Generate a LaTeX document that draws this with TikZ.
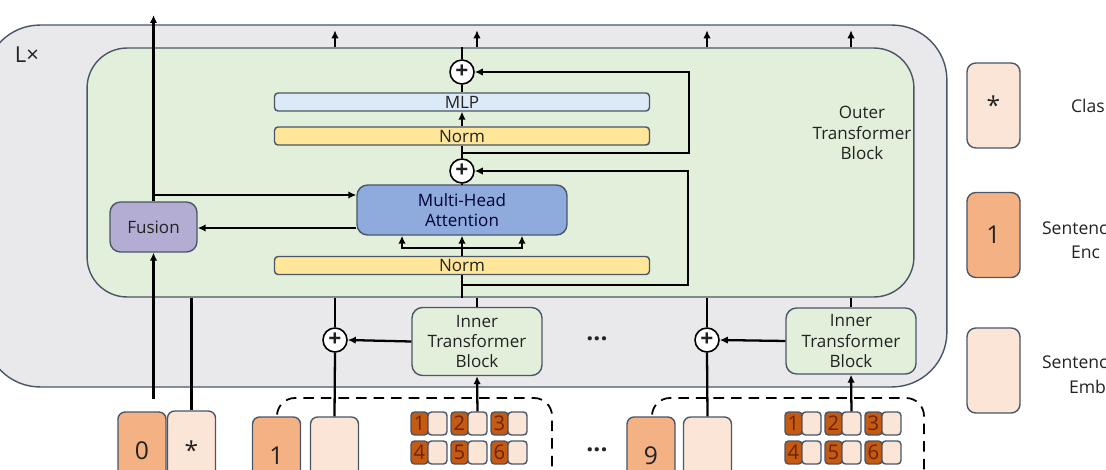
\documentclass[tikz,border=0pt]{standalone}
\usepackage{fontspec}
\setmainfont{Open Sans}
\usetikzlibrary{positioning}
\usetikzlibrary{arrows.meta}
\definecolor{tnt_gray}{HTML}{E9E9EC}
\definecolor{tnt_green}{HTML}{E2EFDA}
\definecolor{tnt_line}{HTML}{4A5568}
\definecolor{tnt_blue}{HTML}{DCE9F7}
\definecolor{tnt_yellow}{HTML}{FFE699}
\definecolor{tnt_mha}{HTML}{8FAADC}
\definecolor{tnt_fusion}{HTML}{B4ADD3}
\definecolor{tnt_pos}{HTML}{F4B183}
\definecolor{tnt_emb}{HTML}{FBE5D6}
\definecolor{tnt_word}{HTML}{C55A11}
\definecolor{tnt_wtext}{HTML}{6B2408}
\definecolor{tnt_text}{HTML}{222222}
\tikzset{tnt_diagram/.style={x=0.02cm,y=-0.02cm,line width=1.3pt,>={Latex[length=1.6mm,width=1.5mm]},font=\fontsize{9.7}{11.5}\selectfont,text=tnt_text}}
\tikzset{tnt_frame/.style={draw=tnt_line,line width=0.8pt,inner sep=0pt}}
\tikzset{tnt_bar/.style={tnt_frame,rounded corners=2pt,minimum width=7.5cm,minimum height=0.36cm}}
\tikzset{tnt_block/.style={tnt_frame,rounded corners=6pt,align=center}}
\tikzset{tnt_plus/.style={circle,draw=black,fill=white,line width=0.9pt,minimum size=0.48cm,inner sep=0pt,font=\fontsize{13}{13}\bfseries\selectfont}}
\tikzset{tnt_token/.style={tnt_frame,rounded corners=4pt,minimum width=0.96cm,minimum height=1.56cm,font=\fontsize{14}{14}\selectfont}}
\tikzset{tnt_wpos/.style={tnt_frame,fill=tnt_word,rounded corners=2pt,minimum width=0.34cm,minimum height=0.46cm,text=tnt_wtext,font=\fontsize{11.5}{11.5}\selectfont}}
\tikzset{tnt_wemb/.style={tnt_frame,fill=tnt_emb,rounded corners=2pt,minimum width=0.38cm,minimum height=0.46cm}}
\tikzset{tnt_legend/.style={tnt_frame,rounded corners=5pt,minimum width=1.06cm,minimum height=1.7cm,font=\fontsize{14}{14}\selectfont}}
\tikzset{tnt_dots/.style={font=\fontsize{14}{14}\bfseries\selectfont}}
\tikzset{tnt_ltext/.style={anchor=west,font=\fontsize{10}{12}\selectfont}}

\begin{document}
\begin{tikzpicture}[tnt_diagram]
    \useasboundingbox (0,0) rectangle (1106,470);
    % layer boxes
    \node[tnt_frame, fill=tnt_gray, rounded corners=1.1cm, minimum width=19.24cm, minimum height=7.24cm] (layer) at (466,206) {};
    \node[anchor=west, font=\fontsize{12.5}{14}\selectfont] (lx) at (8,55) {L×};
    \node[tnt_frame, fill=tnt_green, rounded corners=0.8cm, minimum width=16.54cm, minimum height=4.98cm] (outer) at (500.5,172.5) {};
    \node[align=center] (outer_lbl) at (862,133) {Outer\\Transformer\\Block};

    % outer transformer block
    \node[tnt_plus] (plusT) at (462,72) {+};
    \node[tnt_bar, fill=tnt_blue] (mlp) at (462,102) {MLP};
    \node[tnt_bar, fill=tnt_yellow] (normT) at (462,136) {Norm};
    \node[tnt_plus] (plusM) at (462,171) {+};
    \node[tnt_block, fill=tnt_mha, minimum width=4.2cm, minimum height=1cm, text=black!80!blue] (mha) at (462,210) {Multi-Head\\Attention};
    \node[tnt_bar, fill=tnt_yellow] (normB) at (462,265.5) {Norm};
    \node[tnt_block, fill=tnt_fusion, minimum width=1.74cm, minimum height=1cm] (fusion) at (153.5,227) {Fusion};

    % inner transformer blocks
    \node[tnt_block, fill=tnt_green, minimum width=2.6cm, minimum height=1.36cm] (innerA) at (477,341.5) {Inner\\Transformer\\Block};
    \node[tnt_block, fill=tnt_green, minimum width=2.6cm, minimum height=1.32cm] (innerB) at (851,341) {Inner\\Transformer\\Block};
    \node[tnt_plus] (plusL) at (335,340) {+};
    \node[tnt_plus] (plusR) at (707,340) {+};
    \node[tnt_dots] (dotsI) at (597,339) {...};

    % sentence groups
    \draw[line width=1pt, dashed, dash pattern=on 6pt off 4pt, rounded corners=0.36cm] (277,520) -- (277,398) -- (552,398) -- (552,520);
    \draw[line width=1pt, dashed, dash pattern=on 6pt off 4pt, rounded corners=0.36cm] (652,520) -- (652,398) -- (924,398) -- (924,520);
    \node[tnt_token, fill=tnt_pos] (pos0) at (142,451) {0};
    \node[tnt_token, fill=tnt_emb] (cls) at (191.5,450) {*};
    \node[tnt_token, fill=tnt_pos] (pos1) at (276.5,456) {1};
    \node[tnt_token, fill=tnt_emb] (emb1) at (334.5,456) {};
    \node[tnt_token, fill=tnt_pos] (pos9) at (651,456) {9};
    \node[tnt_token, fill=tnt_emb] (emb9) at (707.5,456) {};
    \node[tnt_dots] (dotsS) at (597,450) {...};
    \foreach \g/\gx in {a/411, b/785}
        \foreach \r in {0,1}
            \foreach \c in {0,1,2} {
                \pgfmathtruncatemacro\n{3*\r+\c+1}
                \node[tnt_wpos] (w\g\n) at (\gx+40*\c+8.5, 423.5+29*\r) {\n};
                \node[tnt_wemb] (w\g\n e) at (\gx+40*\c+26.5, 423.5+29*\r) {};
            }

    % legend
    \node[tnt_legend, fill=tnt_emb] (leg_cls) at (993.5,105.5) {*};
    \node[tnt_legend, fill=tnt_pos] (leg_pos) at (993.5,235) {1};
    \node[tnt_legend, fill=tnt_emb] (leg_emb) at (993.5,370.5) {};
    \node[tnt_ltext] (leg_cls_t) at (1064,106) {Clas};
    \node[tnt_ltext] (leg_pos_t1) at (1035,228) {Sentenc};
    \node[tnt_ltext] (leg_pos_t2) at (1064,252) {Enc};
    \node[tnt_ltext] (leg_emb_t1) at (1035,362) {Sentenc};
    \node[tnt_ltext] (leg_emb_t2) at (1062,387) {Emb};

    \coordinate (fus_out) at (153.5,15);
    \coordinate (fus_in) at (153.5,399);
    \coordinate (split) at (153.5,195);
    \coordinate (mha_out) at ([yshift=-0.36cm]mha.west);
    \coordinate (qkv) at (462,248);
    \coordinate (res1) at (462,285);
    \coordinate (res2) at (462,153);

    % main column
    \draw (normB.south) -- (normB.south |- outer.south);
    \draw (normB.north) -- (qkv);
    \draw[->] (qkv) -- (mha.south);
    \draw[->] (qkv) -- ([xshift=-1.2cm]qkv) -- ([xshift=-1.2cm]mha.south);
    \draw[->] (qkv) -- ([xshift=1.2cm]qkv) -- ([xshift=1.2cm]mha.south);
    \draw (mha.north) -- (plusM.south);
    \draw (plusM.north) -- (normT.south);
    \draw[->] (normT.north) -- (mlp.south);
    \draw (mlp.north) -- (plusT.south);
    \draw (plusT.north) -- (plusT |- outer.north);
    \draw[->] (res1) -- ++(226,0) |- (plusM.east);
    \draw[->] (res2) -- ++(227,0) |- (plusT.east);

    % fusion
    \draw[->] (fusion.north) -- (fus_out);
    \draw[->] (split) -- (split -| mha.west);
    \draw[->] (mha_out) -- (mha_out -| fusion.east);
    \draw[->] (fus_in) -- (fusion.south);
    \draw (cls.north) -- (cls.north |- outer.south);

    % sentence paths
    \draw (emb1.north) -- (plusL.south);
    \draw (emb9.north) -- (plusR.south);
    \draw[->] (innerA.west) -- (plusL.east);
    \draw[->] (innerB.west) -- (plusR.east);
    \draw[->] (wa2e.north) -- (innerA.south);
    \draw[->] (wb2e.north) -- (innerB.south);
    \foreach \s in {plusL, innerA, plusR, innerB} {
        \draw (\s.north) -- (\s.north |- outer.south);
        \draw[->] (\s.north |- outer.north) -- ++(0,-17);
    }
\end{tikzpicture}
\end{document}
